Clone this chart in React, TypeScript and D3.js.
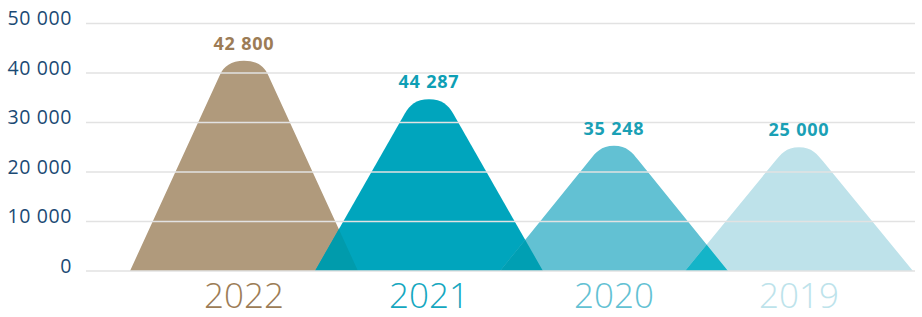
import React from "react";
import * as d3 from "d3";

const years = ["2022", "2021", "2020", "2019"];
const peakValues = [42500, 34700, 25300, 25000];
const valueLabels = ["42 800", "44 287", "35 248", "25 000"];
const yTicks = [0, 10000, 20000, 30000, 40000, 50000];
const tickLabels = ["0", "10 000", "20 000", "30 000", "40 000", "50 000"];

const fills = ["#b09a7c", "#00a5bd", "#62c1d3", "#bee2ea"];
const overlapFills = ["#009bac", "#009fb3", "#14b4c8"];
const valueColors = ["#9c7c56", "#0e9fb5", "#1aa0b5", "#1aa0b5"];
const yearColors = ["#9c7c56", "#14a7c0", "#62c1d3", "#bde3eb"];

const W = 922, H = 317;
const font = "'Open Sans', 'Noto Sans', sans-serif";

export default function App() {
  const y = d3.scaleLinear().domain([0, 50000]).range([271, 23.5]);
  const x = d3.scalePoint<string>().domain(years).range([244, 799]);
  const halfBase = 114;
  const capHalf = 24;
  const capDrop = 14;

  // mountain path: straight flanks, rounded cap
  const shape = (yr: string, v: number) => {
    const cx = x(yr) as number;
    const base = y(0);
    const top = y(v);
    const sy = top + capDrop;
    const dx = halfBase - capHalf, dy = base - sy;
    const len = Math.hypot(dx, dy);
    const ux = dx / len, uy = dy / len;
    const t = 9;
    const p = d3.path();
    p.moveTo(cx - halfBase, base);
    p.lineTo(cx - capHalf, sy);
    p.bezierCurveTo(cx - capHalf + ux * t, sy - uy * t, cx - 13, top, cx, top);
    p.bezierCurveTo(cx + 13, top, cx + capHalf - ux * t, sy - uy * t, cx + capHalf, sy);
    p.lineTo(cx + halfBase, base);
    p.closePath();
    return p.toString();
  };

  const paths = years.map((yr, i) => shape(yr, peakValues[i]));

  return (
    <svg width={W} height={H} style={{ position: "absolute", left: 0, top: 0 }}>
      <defs>
        {paths.map((d, i) => (
          <clipPath id={"clip-" + i} key={i}>
            <path d={d} />
          </clipPath>
        ))}
      </defs>
      {paths.map((d, i) => (
        <path key={"s" + i} d={d} fill={fills[i]} />
      ))}
      {paths.slice(1).map((d, i) => (
        <path key={"o" + i} d={d} fill={overlapFills[i]} clipPath={`url(#clip-${i})`} />
      ))}
      {yTicks.map((t, i) => (
        <g key={"g" + t}>
          <line x1={86} x2={915} y1={y(t)} y2={y(t)} stroke="#e2e2e2" strokeWidth={1.5} />
          <text x={72} y={y(t) + 1.5} textAnchor="end" fill="#1b4a74"
            fontFamily={font} fontSize={19.5} letterSpacing={0.6}>{tickLabels[i]}</text>
        </g>
      ))}
      {years.map((yr, i) => (
        <g key={"l" + yr}>
          <text x={x(yr)} y={y(peakValues[i]) - 11} textAnchor="middle" fill={valueColors[i]}
            fontFamily={font} fontWeight={700} fontSize={18} letterSpacing={0.8}>{valueLabels[i]}</text>
          <text x={x(yr)} y={308} textAnchor="middle" fill={yearColors[i]}
            fontFamily={font} fontWeight={300} fontSize={35}>{yr}</text>
        </g>
      ))}
    </svg>
  );
}
